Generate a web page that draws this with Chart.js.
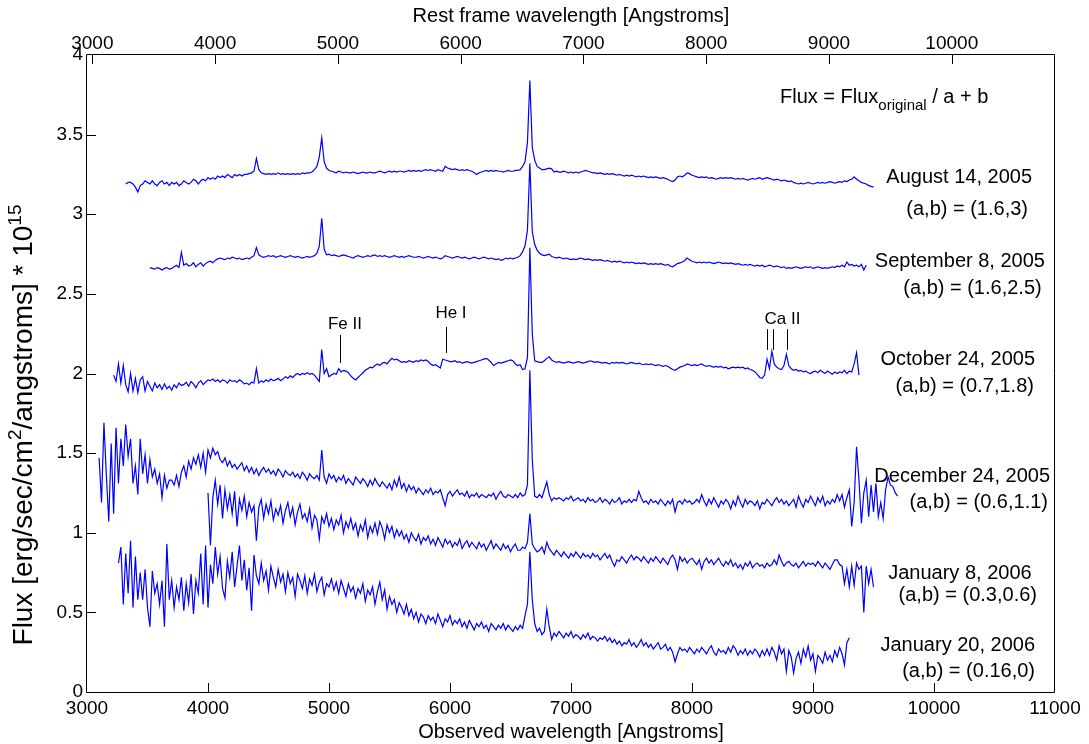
<!DOCTYPE html>
<html>
<head>
<meta charset="utf-8">
<title>Spectral evolution</title>
<style>
  html, body { margin: 0; padding: 0; background: #ffffff; }
  #spectra { display: block; }
</style>
<script src="https://cdn.jsdelivr.net/npm/chart.js@4.4.1/dist/chart.umd.min.js"></script>
</head>
<body>
<canvas id="spectra" width="1089" height="744"></canvas>
<script>
// ---- wavelength grid and axes -------------------------------------------
const STEP = 20;               // Angstroms between samples
const REDSHIFT = 0.0147;       // observed -> rest frame
const obsRange = [3000, 11000];
const obsTicks = [3000, 4000, 5000, 6000, 7000, 8000, 9000, 10000, 11000];
const restTicks = [3000, 4000, 5000, 6000, 7000, 8000, 9000, 10000];
const fluxTicks = [0, 0.5, 1, 1.5, 2, 2.5, 3, 3.5, 4];

// ---- epochs ---------------------------------------------------------------
const epochs = ['August 14, 2005', 'September 8, 2005', 'October 24, 2005',
                'December 24, 2005', 'January 8, 2006', 'January 20, 2006'];
const scalings = ['(a,b) = (1.6,3)', '(a,b) = (1.6,2.5)', '(a,b) = (0.7,1.8)',
                  '(a,b) = (0.6,1.1)', '(a,b) = (0.3,0.6)', '(a,b) = (0.16,0)'];

// ---- spectra (scaled flux, one sample every STEP Angstroms) --------------
const aug14Start = 3320;
const aug14Flux = [
  3.19,3.20,3.20,3.19,3.17,3.14,3.18,3.19,3.21,3.20,
  3.19,3.21,3.19,3.18,3.20,3.21,3.19,3.20,3.18,3.20,
  3.19,3.20,3.18,3.19,3.21,3.20,3.19,3.20,3.22,3.21,
  3.19,3.21,3.22,3.21,3.23,3.22,3.23,3.22,3.24,3.23,
  3.24,3.23,3.25,3.24,3.23,3.25,3.24,3.25,3.24,3.25,
  3.25,3.255,3.26,3.27,3.35,3.28,3.26,3.255,3.25,3.255,
  3.25,3.255,3.25,3.26,3.25,3.255,3.25,3.255,3.25,3.255,
  3.25,3.255,3.25,3.26,3.255,3.26,3.26,3.265,3.28,3.30,
  3.36,3.48,3.33,3.29,3.275,3.27,3.265,3.26,3.27,3.265,
  3.26,3.265,3.26,3.26,3.265,3.26,3.255,3.26,3.265,3.26,
  3.26,3.265,3.26,3.26,3.265,3.27,3.265,3.26,3.265,3.27,
  3.265,3.27,3.265,3.27,3.27,3.265,3.27,3.275,3.27,3.275,
  3.27,3.275,3.27,3.275,3.28,3.275,3.28,3.275,3.27,3.28,
  3.275,3.27,3.30,3.29,3.285,3.28,3.285,3.28,3.275,3.28,
  3.275,3.28,3.275,3.27,3.26,3.25,3.26,3.265,3.27,3.275,
  3.27,3.275,3.27,3.275,3.27,3.27,3.265,3.27,3.275,3.27,
  3.27,3.275,3.275,3.28,3.30,3.33,3.45,3.84,3.42,3.34,
  3.30,3.29,3.28,3.28,3.285,3.29,3.285,3.265,3.27,3.265,
  3.265,3.27,3.265,3.26,3.265,3.26,3.265,3.26,3.265,3.27,
  3.275,3.27,3.265,3.26,3.26,3.255,3.26,3.255,3.25,3.255,
  3.25,3.255,3.25,3.245,3.25,3.245,3.24,3.245,3.24,3.245,
  3.24,3.235,3.24,3.235,3.24,3.235,3.23,3.235,3.23,3.235,
  3.23,3.225,3.23,3.225,3.22,3.21,3.205,3.215,3.235,3.24,
  3.235,3.245,3.26,3.255,3.245,3.24,3.235,3.23,3.235,3.23,
  3.235,3.225,3.23,3.225,3.22,3.225,3.23,3.225,3.23,3.225,
  3.23,3.225,3.22,3.225,3.22,3.225,3.22,3.215,3.22,3.225,
  3.22,3.225,3.23,3.22,3.225,3.23,3.225,3.22,3.215,3.22,
  3.215,3.21,3.215,3.21,3.205,3.21,3.20,3.195,3.19,3.195,
  3.19,3.195,3.20,3.195,3.19,3.195,3.20,3.195,3.20,3.195,
  3.20,3.205,3.20,3.195,3.20,3.205,3.20,3.21,3.205,3.215,
  3.22,3.235,3.22,3.21,3.20,3.195,3.19,3.18,3.175,3.17
];

const sep08Start = 3520;
const sep08Flux = [
  2.665,2.66,2.655,2.665,2.66,2.65,2.66,2.665,2.655,2.66,
  2.67,2.68,2.665,2.76,2.68,2.69,2.675,2.68,2.695,2.67,
  2.685,2.695,2.675,2.69,2.70,2.705,2.695,2.71,2.72,2.725,
  2.72,2.715,2.725,2.72,2.73,2.725,2.72,2.725,2.715,2.72,
  2.725,2.72,2.73,2.74,2.79,2.745,2.735,2.73,2.735,2.74,
  2.735,2.74,2.73,2.735,2.74,2.735,2.73,2.735,2.74,2.735,
  2.73,2.735,2.73,2.725,2.73,2.735,2.73,2.735,2.74,2.755,
  2.80,2.975,2.78,2.745,2.75,2.74,2.745,2.74,2.735,2.74,
  2.745,2.74,2.735,2.73,2.725,2.735,2.74,2.735,2.73,2.735,
  2.74,2.735,2.74,2.745,2.735,2.74,2.735,2.74,2.735,2.73,
  2.735,2.74,2.735,2.73,2.735,2.73,2.735,2.74,2.735,2.73,
  2.73,2.735,2.73,2.725,2.73,2.735,2.73,2.725,2.73,2.725,
  2.72,2.725,2.74,2.735,2.73,2.725,2.73,2.735,2.73,2.725,
  2.73,2.725,2.72,2.725,2.73,2.725,2.72,2.725,2.73,2.725,
  2.72,2.725,2.72,2.715,2.72,2.71,2.715,2.725,2.72,2.725,
  2.72,2.725,2.73,2.74,2.765,2.80,2.90,3.32,2.89,2.81,
  2.775,2.755,2.745,2.74,2.745,2.75,2.735,2.73,2.725,2.73,
  2.725,2.72,2.725,2.72,2.715,2.72,2.715,2.72,2.725,2.72,
  2.715,2.72,2.715,2.71,2.715,2.71,2.715,2.71,2.705,2.71,
  2.705,2.70,2.705,2.70,2.705,2.70,2.695,2.70,2.695,2.70,
  2.695,2.69,2.695,2.69,2.695,2.69,2.685,2.69,2.685,2.69,
  2.685,2.69,2.685,2.68,2.685,2.675,2.67,2.68,2.69,2.695,
  2.70,2.71,2.725,2.715,2.705,2.70,2.695,2.70,2.695,2.70,
  2.695,2.70,2.695,2.69,2.695,2.70,2.695,2.69,2.695,2.69,
  2.695,2.69,2.685,2.69,2.685,2.68,2.685,2.68,2.685,2.68,
  2.675,2.68,2.675,2.68,2.67,2.675,2.68,2.675,2.67,2.675,
  2.67,2.665,2.67,2.66,2.665,2.66,2.665,2.67,2.665,2.66,
  2.665,2.67,2.665,2.67,2.66,2.665,2.67,2.665,2.66,2.665,
  2.66,2.665,2.67,2.665,2.675,2.67,2.68,2.67,2.70,2.68,
  2.685,2.675,2.68,2.67,2.685,2.65,2.68
];

const oct24Start = 3220;
const oct24Flux = [
  1.99,1.95,2.06,1.94,2.05,1.93,1.885,2.0,1.89,1.97,
  1.88,1.96,1.98,1.89,1.95,1.92,1.89,1.94,1.91,1.93,
  1.90,1.935,1.905,1.92,1.895,1.93,1.91,1.94,1.925,1.93,
  1.945,1.92,1.95,1.935,1.91,1.94,1.955,1.93,1.945,1.96,
  1.955,1.965,1.95,1.96,1.945,1.96,1.955,1.94,1.96,1.95,
  1.955,1.945,1.96,1.95,1.935,1.94,1.93,1.945,1.94,2.03,
  1.94,1.955,1.945,1.96,1.95,1.965,1.955,1.96,1.97,1.955,
  1.965,1.98,1.97,1.985,1.975,1.99,2.0,1.99,2.0,1.995,
  2.005,1.995,2.0,1.99,1.97,1.95,2.15,2.0,2.03,1.98,
  1.99,2.0,1.995,2.03,2.01,2.02,2.015,2.005,1.985,1.97,
  1.96,1.975,1.99,2.005,2.02,2.03,2.04,2.035,2.05,2.06,
  2.05,2.065,2.07,2.06,2.08,2.095,2.085,2.09,2.08,2.07,
  2.075,2.07,2.08,2.075,2.07,2.08,2.075,2.085,2.08,2.085,
  2.075,2.06,2.05,2.055,2.045,2.035,2.09,2.085,2.08,2.075,
  2.075,2.08,2.07,2.075,2.065,2.07,2.075,2.07,2.065,2.07,
  2.075,2.08,2.085,2.09,2.095,2.085,2.07,2.05,2.06,2.07,
  2.065,2.07,2.075,2.08,2.085,2.08,2.06,2.05,2.055,2.025,
  2.03,2.10,2.79,2.25,2.08,2.075,2.07,2.07,2.08,2.095,
  2.105,2.085,2.075,2.07,2.075,2.07,2.065,2.07,2.075,2.07,
  2.065,2.07,2.075,2.07,2.065,2.07,2.075,2.08,2.075,2.07,
  2.075,2.07,2.065,2.07,2.065,2.06,2.07,2.065,2.07,2.065,
  2.07,2.065,2.06,2.065,2.07,2.065,2.06,2.065,2.06,2.055,
  2.06,2.055,2.06,2.055,2.05,2.055,2.05,2.045,2.05,2.045,
  2.035,2.025,2.02,2.03,2.04,2.045,2.05,2.06,2.055,2.05,
  2.055,2.05,2.055,2.06,2.05,2.045,2.05,2.045,2.04,2.045,
  2.04,2.045,2.035,2.04,2.03,2.035,2.04,2.035,2.04,2.035,
  2.04,2.03,2.035,2.025,2.02,2.01,1.995,1.975,1.97,1.99,
  2.09,2.03,2.14,2.06,2.04,2.03,2.025,2.05,2.12,2.05,
  2.03,2.02,2.025,2.015,2.02,2.01,2.015,2.005,2.0,2.01,
  2.015,2.005,2.02,2.01,2.0,2.015,2.005,1.995,2.01,2.0,
  2.01,2.005,2.02,2.0,2.015,2.01,2.06,2.13,1.99
];

const dec24Start = 3100;
const dec24Flux = [
  1.47,1.19,1.69,1.36,1.07,1.56,1.12,1.66,1.31,1.59,
  1.42,1.68,1.48,1.59,1.31,1.42,1.24,1.59,1.37,1.49,
  1.31,1.46,1.35,1.40,1.31,1.37,1.22,1.36,1.28,1.33,
  1.33,1.30,1.36,1.29,1.38,1.42,1.35,1.45,1.40,1.47,
  1.43,1.49,1.41,1.50,1.38,1.52,1.47,1.53,1.49,1.51,
  1.46,1.44,1.47,1.42,1.45,1.41,1.43,1.40,1.42,1.44,
  1.39,1.42,1.38,1.41,1.37,1.40,1.36,1.39,1.41,1.38,
  1.40,1.37,1.39,1.36,1.40,1.38,1.35,1.39,1.37,1.36,
  1.38,1.35,1.37,1.34,1.38,1.36,1.33,1.37,1.35,1.34,
  1.36,1.33,1.52,1.35,1.31,1.37,1.34,1.36,1.32,1.35,
  1.33,1.36,1.31,1.34,1.32,1.30,1.35,1.33,1.31,1.34,
  1.32,1.29,1.33,1.30,1.34,1.31,1.29,1.32,1.30,1.28,
  1.31,1.27,1.33,1.29,1.35,1.28,1.31,1.26,1.30,1.27,
  1.29,1.25,1.28,1.26,1.24,1.27,1.25,1.28,1.24,1.26,
  1.25,1.27,1.22,1.17,1.24,1.26,1.23,1.25,1.27,1.24,
  1.25,1.23,1.26,1.22,1.24,1.23,1.25,1.22,1.24,1.23,
  1.22,1.24,1.23,1.25,1.21,1.24,1.26,1.23,1.22,1.24,
  1.23,1.22,1.24,1.22,1.25,1.23,1.24,1.30,2.02,1.46,
  1.23,1.22,1.24,1.22,1.27,1.32,1.24,1.20,1.22,1.21,
  1.22,1.21,1.20,1.22,1.21,1.23,1.20,1.21,1.22,1.20,
  1.21,1.19,1.22,1.20,1.21,1.19,1.20,1.22,1.19,1.21,
  1.20,1.18,1.21,1.19,1.20,1.22,1.18,1.20,1.19,1.21,
  1.19,1.21,1.20,1.26,1.22,1.19,1.20,1.18,1.21,1.19,
  1.20,1.18,1.21,1.19,1.17,1.20,1.18,1.21,1.13,1.19,
  1.20,1.18,1.21,1.19,1.20,1.18,1.19,1.21,1.19,1.24,
  1.20,1.17,1.21,1.18,1.22,1.19,1.16,1.20,1.18,1.21,
  1.19,1.15,1.20,1.17,1.23,1.19,1.16,1.21,1.18,1.20,
  1.19,1.17,1.20,1.15,1.19,1.18,1.21,1.19,1.17,1.20,
  1.22,1.19,1.21,1.18,1.20,1.17,1.19,1.21,1.16,1.23,
  1.19,1.16,1.21,1.19,1.23,1.20,1.17,1.22,1.19,1.23,
  1.17,1.20,1.18,1.21,1.19,1.24,1.20,1.24,1.16,1.22,
  1.27,1.04,1.19,1.54,1.33,1.06,1.25,1.33,1.10,1.30,
  1.13,1.31,1.10,1.19,1.09,1.27,1.35,1.30,1.29,1.25,
  1.23
];

const jan08Start = 4000;
const jan08Flux = [
  1.25,0.92,1.22,1.33,1.18,1.30,1.09,1.27,1.15,1.24,
  1.12,1.26,1.04,1.21,1.14,1.23,1.10,1.19,1.13,1.17,
  0.95,1.16,1.21,1.09,1.18,1.12,1.20,1.08,1.15,1.11,
  1.17,1.06,1.14,1.19,1.10,1.16,1.05,1.13,1.18,1.09,
  1.12,1.07,1.15,1.03,1.11,1.08,0.96,1.10,1.06,1.12,
  1.04,1.09,1.02,1.08,1.05,1.11,1.00,1.07,1.03,1.09,
  1.02,1.06,0.98,1.05,1.01,1.08,0.97,1.04,1.00,1.06,
  0.99,1.07,1.03,0.96,1.05,1.00,1.04,0.97,1.02,0.98,
  1.01,0.96,0.99,0.94,1.00,0.97,0.95,0.99,0.93,0.97,
  0.95,0.98,0.93,0.96,0.92,0.97,0.94,0.91,0.96,0.93,
  0.95,0.91,0.94,0.92,0.96,0.90,0.93,0.95,0.91,0.94,
  0.92,0.90,0.94,0.91,0.93,0.89,0.92,0.95,0.90,0.93,
  0.91,0.89,0.93,0.90,0.92,0.88,0.91,0.93,0.89,0.89,
  0.91,0.90,0.94,1.12,0.93,0.90,0.88,0.89,0.91,0.87,
  0.94,0.90,0.88,0.86,0.89,0.87,0.85,0.88,0.86,0.84,
  0.87,0.85,0.88,0.86,0.84,0.87,0.85,0.86,0.84,0.87,
  0.85,0.86,0.83,0.85,0.87,0.84,0.86,0.82,0.79,0.83,
  0.82,0.85,0.83,0.81,0.84,0.86,0.83,0.85,0.84,0.82,
  0.85,0.83,0.81,0.84,0.82,0.85,0.83,0.81,0.84,0.82,
  0.80,0.84,0.86,0.83,0.77,0.85,0.82,0.84,0.81,0.83,
  0.84,0.82,0.80,0.83,0.77,0.82,0.84,0.81,0.83,0.80,
  0.82,0.84,0.81,0.79,0.82,0.80,0.83,0.79,0.81,0.78,
  0.80,0.77,0.81,0.79,0.82,0.78,0.80,0.81,0.79,0.80,
  0.78,0.81,0.79,0.80,0.83,0.80,0.86,0.82,0.79,0.81,
  0.82,0.80,0.79,0.81,0.78,0.80,0.82,0.79,0.81,0.80,
  0.81,0.79,0.82,0.80,0.78,0.81,0.79,0.77,0.80,0.83,
  0.83,0.80,0.79,0.68,0.77,0.66,0.79,0.67,0.81,0.77,
  0.79,0.50,0.79,0.68,0.77,0.66
];

const jan20Start = 3260;
const jan20Flux = [
  0.81,0.91,0.55,0.87,0.62,0.95,0.53,0.85,0.58,0.75,
  0.58,0.77,0.53,0.41,0.76,0.62,0.68,0.55,0.70,0.41,
  0.93,0.58,0.70,0.53,0.66,0.58,0.72,0.51,0.68,0.56,
  0.74,0.49,0.70,0.62,0.87,0.55,0.92,0.53,0.80,0.68,
  0.91,0.74,0.85,0.65,0.59,0.82,0.72,0.88,0.66,0.79,
  0.92,0.70,0.83,0.64,0.78,0.51,0.86,0.73,0.68,0.81,
  0.70,0.76,0.64,0.79,0.72,0.66,0.77,0.69,0.74,0.63,
  0.75,0.68,0.72,0.60,0.74,0.70,0.65,0.73,0.62,0.71,
  0.67,0.74,0.63,0.69,0.72,0.61,0.68,0.66,0.71,0.64,
  0.69,0.62,0.70,0.65,0.60,0.68,0.63,0.66,0.59,0.65,
  0.62,0.68,0.57,0.64,0.61,0.66,0.55,0.63,0.69,0.58,
  0.64,0.52,0.60,0.55,0.58,0.50,0.56,0.53,0.49,0.55,
  0.48,0.52,0.46,0.50,0.44,0.49,0.47,0.43,0.48,0.45,
  0.47,0.43,0.49,0.45,0.41,0.46,0.44,0.48,0.42,0.45,
  0.43,0.46,0.41,0.44,0.40,0.45,0.42,0.39,0.43,0.41,
  0.44,0.40,0.42,0.38,0.43,0.41,0.39,0.42,0.40,0.43,
  0.39,0.42,0.40,0.38,0.41,0.39,0.42,0.40,0.48,0.55,
  0.88,0.58,0.43,0.38,0.40,0.36,0.38,0.52,0.41,0.33,
  0.37,0.35,0.38,0.36,0.34,0.37,0.35,0.38,0.34,0.36,
  0.35,0.33,0.36,0.34,0.37,0.33,0.35,0.34,0.32,0.34,
  0.33,0.35,0.32,0.34,0.31,0.33,0.30,0.32,0.29,0.31,
  0.30,0.33,0.29,0.31,0.28,0.30,0.33,0.29,0.31,0.28,
  0.30,0.27,0.29,0.31,0.27,0.28,0.30,0.26,0.28,0.25,
  0.19,0.24,0.28,0.26,0.27,0.25,0.28,0.26,0.24,0.27,
  0.25,0.28,0.26,0.24,0.27,0.29,0.25,0.23,0.27,0.25,
  0.26,0.24,0.28,0.25,0.29,0.27,0.23,0.26,0.24,0.27,
  0.23,0.26,0.24,0.27,0.25,0.22,0.26,0.23,0.27,0.23,
  0.28,0.25,0.20,0.29,0.24,0.27,0.13,0.26,0.22,0.12,
  0.21,0.25,0.18,0.27,0.22,0.29,0.20,0.24,0.13,0.23,
  0.21,0.18,0.25,0.20,0.23,0.19,0.26,0.22,0.28,0.24,
  0.17,0.31,0.34
];

// ---- identified lines (observed wavelength, Angstroms) -------------------
const lineNames = ['Fe II', 'He I', 'Ca II'];
const lineWaves = [[5092], [5964], [8623, 8668, 8789]];

// ---- text placement (data units) ------------------------------------------
// [right edge of date, date y, right edge of (a,b), (a,b) y]
const epochLabelPlace = [
  [10810, 3.228, 10777, 3.033],
  [10917, 2.702, 10890, 2.531],
  [10835, 2.091, 10826, 1.917],
  [10959, 1.352, 10942, 1.189],
  [10807, 0.745, 10851, 0.609],
  [10835, 0.295, 10835, 0.127]
];
// [text centre x, text y, marker bottom y, marker top y]
const linePlace = [
  [5132, 2.311, 2.066, 2.242],
  [6008, 2.380, 2.129, 2.292],
  [8748, 2.340, 2.148, 2.278]
];
const formulaPlace = [8727, 3.70];

const FONT = '"Liberation Sans", Arial, Helvetica, sans-serif';
const font = px => px + 'px ' + FONT;

function toPoints(start, flux) {
  return flux.map((v, i) => ({ x: start + i * STEP, y: v }));
}

const spectra = [
  [aug14Start, aug14Flux], [sep08Start, sep08Flux], [oct24Start, oct24Flux],
  [dec24Start, dec24Flux], [jan08Start, jan08Flux], [jan20Start, jan20Flux]
];

// frame, inward tick marks and the rotated flux title
const framePlugin = {
  id: 'frame',
  afterDraw(chart) {
    const { ctx, chartArea: a } = chart;
    const sx = chart.scales.x, sxt = chart.scales.xRest, sy = chart.scales.y;
    ctx.save();
    ctx.strokeStyle = '#000';
    ctx.lineWidth = 1;
    ctx.beginPath();
    ctx.rect(a.left - 0.5, a.top - 0.5, a.right - a.left, a.bottom - a.top + 1);
    ctx.stroke();

    const TL = 9;
    ctx.beginPath();
    obsTicks.slice(1, -1).forEach(v => {
      const px = Math.round(sx.getPixelForValue(v)) + 0.5;
      ctx.moveTo(px, a.bottom); ctx.lineTo(px, a.bottom - TL);
    });
    restTicks.forEach(v => {
      const px = Math.round(sxt.getPixelForValue(v)) + 0.5;
      ctx.moveTo(px, a.top); ctx.lineTo(px, a.top + TL);
    });
    fluxTicks.slice(1, -1).forEach(v => {
      const py = Math.round(sy.getPixelForValue(v)) + 0.5;
      ctx.moveTo(a.left, py); ctx.lineTo(a.left + TL, py);
    });
    ctx.stroke();

    // y-axis title with superscripts
    const parts = [
      ['Flux [erg/sec/cm', 28, 0], ['2', 19, -11],
      ['/angstroms] * 10', 28, 0], ['15', 19, -11]
    ];
    let total = 0;
    parts.forEach(p => { ctx.font = font(p[1]); total += ctx.measureText(p[0]).width; });
    ctx.translate(22, 425);
    ctx.rotate(-Math.PI / 2);
    ctx.fillStyle = '#000';
    ctx.textBaseline = 'alphabetic';
    ctx.textAlign = 'left';
    let cx = -total / 2;
    parts.forEach(p => {
      ctx.font = font(p[1]);
      ctx.fillText(p[0], cx, 10 + p[2]);
      cx += ctx.measureText(p[0]).width;
    });
    ctx.restore();
  }
};

// epoch labels, scaling formula and line identifications
const labelPlugin = {
  id: 'labels',
  afterDatasetsDraw(chart) {
    const { ctx } = chart;
    const sx = chart.scales.x, sy = chart.scales.y;
    ctx.save();
    ctx.fillStyle = '#000';
    ctx.strokeStyle = '#000';
    ctx.lineWidth = 1;

    ctx.font = font(20);
    ctx.textAlign = 'right';
    ctx.textBaseline = 'middle';
    epochs.forEach((name, i) => {
      const p = epochLabelPlace[i];
      ctx.fillText(name, sx.getPixelForValue(p[0]), sy.getPixelForValue(p[1]));
      ctx.fillText(scalings[i], sx.getPixelForValue(p[2]), sy.getPixelForValue(p[3]));
    });

    // Flux = Flux_original / a + b
    ctx.textAlign = 'left';
    ctx.textBaseline = 'alphabetic';
    let fx = sx.getPixelForValue(formulaPlace[0]);
    const fy = sy.getPixelForValue(formulaPlace[1]);
    ctx.font = font(20);
    ctx.fillText('Flux = Flux', fx, fy);
    fx += ctx.measureText('Flux = Flux').width;
    ctx.font = font(15);
    ctx.fillText('original', fx, fy + 7);
    fx += ctx.measureText('original').width;
    ctx.font = font(20);
    ctx.fillText(' / a + b', fx, fy);

    // line markers
    ctx.font = font(17);
    ctx.textAlign = 'center';
    ctx.textBaseline = 'middle';
    lineNames.forEach((name, i) => {
      const p = linePlace[i];
      ctx.fillText(name, sx.getPixelForValue(p[0]), sy.getPixelForValue(p[1]));
      ctx.beginPath();
      lineWaves[i].forEach(w => {
        const px = Math.round(sx.getPixelForValue(w)) + 0.5;
        ctx.moveTo(px, sy.getPixelForValue(p[2]));
        ctx.lineTo(px, sy.getPixelForValue(p[3]));
      });
      ctx.stroke();
    });
    ctx.restore();
  }
};

const tickFont = { family: FONT, size: 19 };
const titleFont = { family: FONT, size: 20 };

new Chart(document.getElementById('spectra'), {
  type: 'line',
  data: {
    datasets: spectra.map((s, i) => ({
      label: epochs[i],
      data: toPoints(s[0], s[1]),
      borderColor: '#0000ff',
      borderWidth: 1.2,
      pointRadius: 0,
      tension: 0,
      fill: false
    }))
  },
  options: {
    responsive: false,
    animation: false,
    devicePixelRatio: 1,
    layout: { padding: { left: 0, right: 34, top: 0, bottom: 0 } },
    plugins: { legend: { display: false }, tooltip: { enabled: false } },
    scales: {
      x: {
        type: 'linear', position: 'bottom',
        min: obsRange[0], max: obsRange[1],
        afterBuildTicks: ax => { ax.ticks = obsTicks.map(v => ({ value: v })); },
        ticks: { callback: v => String(v), font: tickFont, color: '#000', padding: 5, maxRotation: 0, autoSkip: false },
        grid: { display: false, drawTicks: false },
        border: { display: false },
        title: { display: true, text: 'Observed wavelength [Angstroms]', font: titleFont, color: '#000', padding: { top: 1, bottom: 0 } },
        afterFit: s => { s.height = 52; s.paddingLeft = 0; s.paddingRight = 0; }
      },
      xRest: {
        type: 'linear', position: 'top',
        min: obsRange[0] / (1 + REDSHIFT), max: obsRange[1] / (1 + REDSHIFT),
        afterBuildTicks: ax => { ax.ticks = restTicks.map(v => ({ value: v })); },
        ticks: { callback: v => String(v), font: tickFont, color: '#000', padding: 0, maxRotation: 0, autoSkip: false },
        grid: { display: false, drawTicks: false },
        border: { display: false },
        title: { display: true, text: 'Rest frame wavelength [Angstroms]', font: titleFont, color: '#000', padding: { top: 4, bottom: 0 } },
        afterFit: s => { s.height = 55; s.paddingLeft = 0; s.paddingRight = 0; }
      },
      y: {
        type: 'linear', position: 'left',
        min: 0, max: 4,
        afterBuildTicks: ax => { ax.ticks = fluxTicks.map(v => ({ value: v })); },
        ticks: { callback: v => String(v), font: tickFont, color: '#000', padding: 4 },
        grid: { display: false, drawTicks: false },
        border: { display: false },
        afterFit: s => { s.width = 87; s.paddingTop = 0; s.paddingBottom = 0; }
      }
    }
  },
  plugins: [labelPlugin, framePlugin]
});
</script>
</body>
</html>
